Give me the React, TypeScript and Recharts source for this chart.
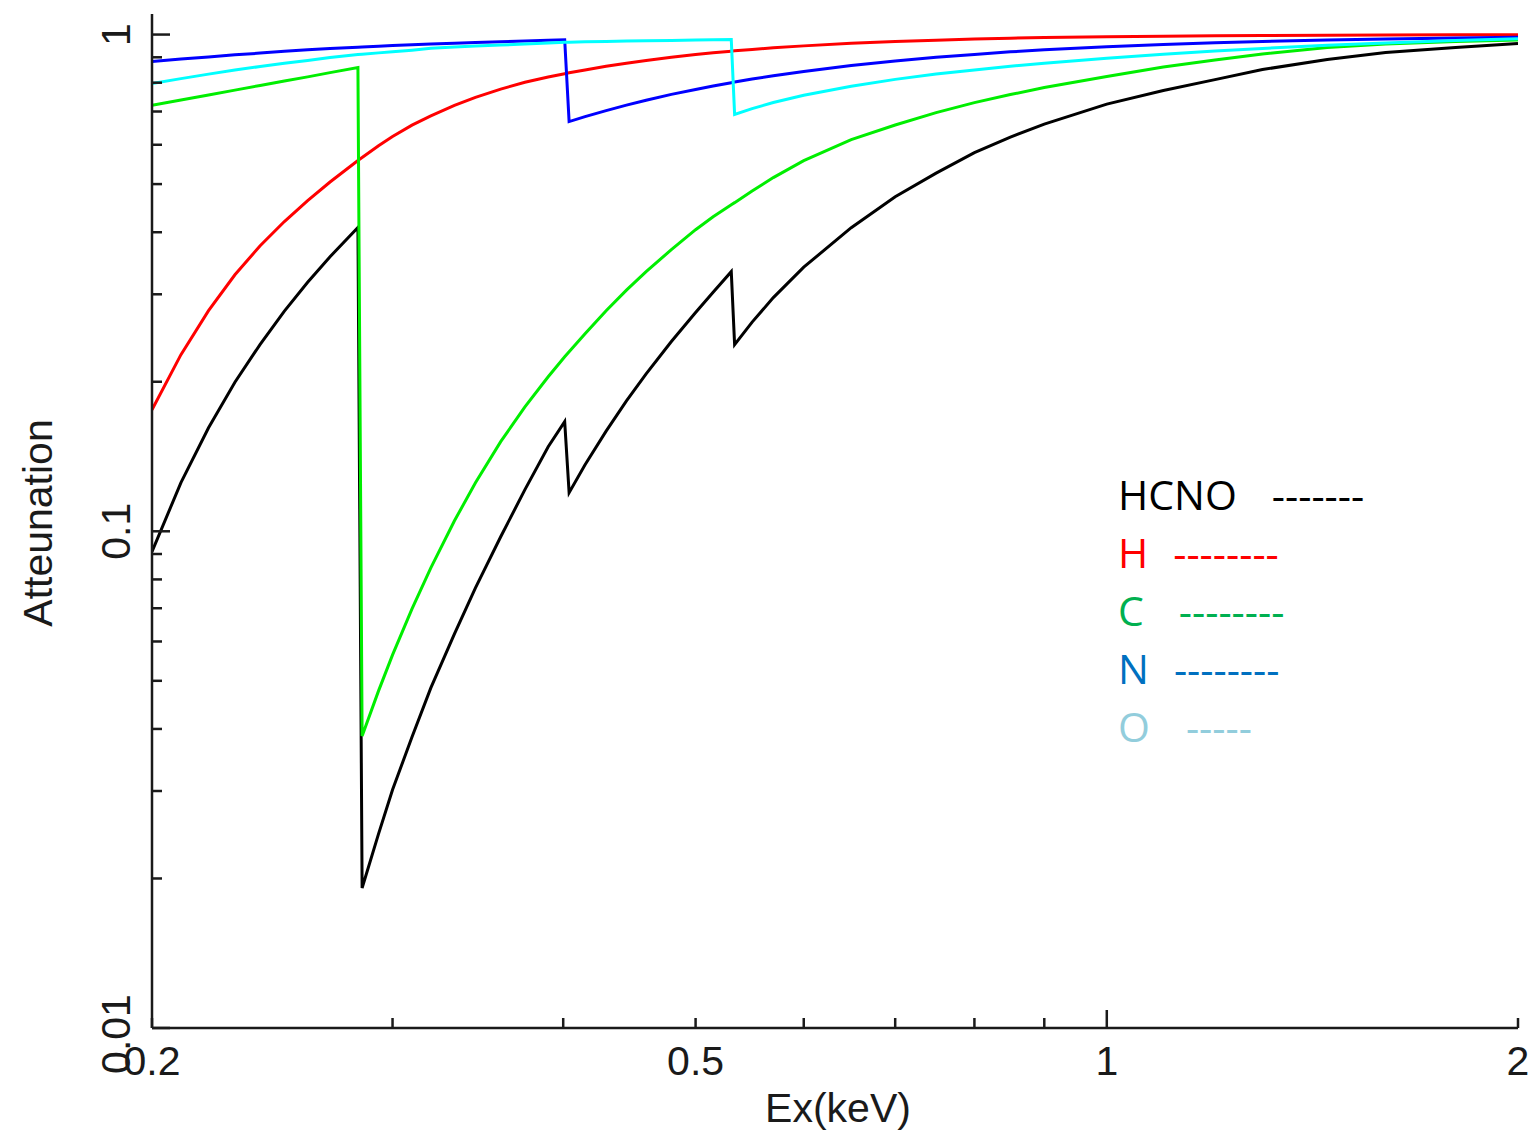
import React from 'react';
import { LineChart, Line, XAxis, YAxis, Legend } from 'recharts';

// photon energy (keV); each absorption edge is sampled just before and just after
const energies = [
  0.2, 0.21, 0.22, 0.23, 0.24, 0.25, 0.26, 0.27, 0.283,
  0.285, 0.293, 0.3, 0.31, 0.32, 0.333, 0.345, 0.36, 0.375, 0.39, 0.401,
  0.404, 0.415, 0.43, 0.445, 0.46, 0.48, 0.5, 0.515, 0.531,
  0.534, 0.55, 0.57, 0.6, 0.65, 0.7, 0.75, 0.8, 0.85, 0.9, 1.0, 1.1, 1.2, 1.3, 1.45, 1.6, 1.8, 2.0,
];

const hcno = [
  0.091, 0.1253, 0.1616, 0.1995, 0.2379, 0.2774, 0.3172, 0.3571, 0.4087,
  0.01914, 0.02459, 0.03016, 0.03855, 0.04839, 0.06217, 0.07691, 0.09748, 0.1213, 0.148, 0.1662,
  0.1196, 0.1361, 0.1591, 0.183, 0.2074, 0.241, 0.2757, 0.3027, 0.3332,
  0.2375, 0.2637, 0.2954, 0.3402, 0.4085, 0.4717, 0.526, 0.5785, 0.6216, 0.6603, 0.7244, 0.7714, 0.8115, 0.8503, 0.8907, 0.9199, 0.9415, 0.9591,
];
const hydrogen = [
  0.1757, 0.2268, 0.2781, 0.3284, 0.3757, 0.4203, 0.463, 0.5048, 0.5578,
  0.5654, 0.5974, 0.6233, 0.6572, 0.6862, 0.7201, 0.7474, 0.7767, 0.8015, 0.8215, 0.8341,
  0.8375, 0.8487, 0.863, 0.8758, 0.8867, 0.9, 0.9115, 0.919, 0.926,
  0.9273, 0.9333, 0.9402, 0.9489, 0.96, 0.9681, 0.9743, 0.9793, 0.9834, 0.9862, 0.9899, 0.9926, 0.9945, 0.9958, 0.9972, 0.9981, 0.9991, 0.9995,
];
const carbon = [
  0.7202, 0.7385, 0.7556, 0.773, 0.7899, 0.806, 0.8219, 0.8382, 0.8582,
  0.03873, 0.04772, 0.05639, 0.06981, 0.08442, 0.105, 0.1252, 0.1515, 0.1781, 0.2047, 0.2246,
  0.2298, 0.2498, 0.278, 0.3058, 0.3332, 0.369, 0.4047, 0.4298, 0.4545,
  0.4588, 0.484, 0.5153, 0.5575, 0.6145, 0.6575, 0.6963, 0.7295, 0.7571, 0.7821, 0.823, 0.8601, 0.8887, 0.9136, 0.9415, 0.9569, 0.9681, 0.9748,
];
const nitrogen = [
  0.8823, 0.8927, 0.9017, 0.9102, 0.9177, 0.9251, 0.932, 0.9371, 0.9432,
  0.9441, 0.9476, 0.9502, 0.9538, 0.9569, 0.9609, 0.964, 0.9676, 0.9708, 0.9739, 0.9761,
  0.668, 0.6834, 0.703, 0.7211, 0.7377, 0.7578, 0.7755, 0.788, 0.8,
  0.8023, 0.8137, 0.826, 0.8427, 0.8662, 0.8847, 0.9, 0.9122, 0.923, 0.9316, 0.945, 0.9552, 0.9627, 0.9685, 0.9752, 0.9798, 0.9844, 0.9875,
];
const oxygen = [
  0.7968, 0.8153, 0.8325, 0.8482, 0.8623, 0.8753, 0.8871, 0.8989, 0.9115,
  0.9131, 0.9186, 0.923, 0.9302, 0.9389, 0.9441, 0.948, 0.9525, 0.9569, 0.9613, 0.9645,
  0.9649, 0.9667, 0.9685, 0.9703, 0.9716, 0.9734, 0.9748, 0.9761, 0.977,
  0.6903, 0.7093, 0.7299, 0.755, 0.787, 0.8124, 0.8325, 0.8489, 0.8632, 0.8758, 0.8963, 0.9131, 0.9263, 0.9376, 0.9515, 0.9618, 0.9725, 0.9811,
];

const xTicks = [0.2, 0.3, 0.4, 0.5, 0.6, 0.7, 0.8, 0.9, 1, 2];
const xLabels = [0.2, 0.5, 1, 2];
const yTicks = [
  0.01, 0.02, 0.03, 0.04, 0.05, 0.06, 0.07, 0.08, 0.09,
  0.1, 0.2, 0.3, 0.4, 0.5, 0.6, 0.7, 0.8, 0.9, 1,
];
const yLabels = [0.01, 0.1, 1];

const series = [
  { key: 'hcno', name: 'HCNO', values: hcno, color: '#000000', legendColor: '#000000', dashes: '-------', gap: 35 },
  { key: 'h', name: 'H', values: hydrogen, color: '#ff0000', legendColor: '#ff0000', dashes: '--------', gap: 25 },
  { key: 'c', name: 'C', values: carbon, color: '#00ee00', legendColor: '#00b050', dashes: '--------', gap: 35 },
  { key: 'n', name: 'N', values: nitrogen, color: '#0000ff', legendColor: '#0070c0', dashes: '--------', gap: 25 },
  { key: 'o', name: 'O', values: oxygen, color: '#00ffff', legendColor: '#92cddc', dashes: '-----', gap: 36 },
];

const data = energies.map((e, i) => {
  const row: Record<string, number> = { e };
  series.forEach((s) => {
    row[s.key] = s.values[i];
  });
  return row;
});

const FONT = "'Liberation Sans', Arial, Helvetica, sans-serif";
const INK = '#1a1a1a';

function BottomTick({ x, y, payload }: any) {
  const v = payload.value;
  const len = v === 1 ? 18 : 10;
  return (
    <g>
      <line x1={x} y1={y} x2={x} y2={y - len} stroke={INK} strokeWidth={2.5} />
      {xLabels.includes(v) && (
        <text x={x} y={y + 47} textAnchor="middle" fontSize={41} fontFamily={FONT} fill={INK}>
          {String(v)}
        </text>
      )}
    </g>
  );
}

function TopTick({ x, y, payload }: any) {
  const len = payload.value === 1 ? 18 : 10;
  return <line x1={x} y1={y} x2={x} y2={y + len} stroke={INK} strokeWidth={2.5} />;
}

function LeftTick({ x, y, payload }: any) {
  const v = payload.value;
  const major = yLabels.includes(v);
  const len = major ? 18 : 10;
  // the bottom label sits a little low in the original
  const ly = v === 0.01 ? y + 6 : y;
  return (
    <g>
      <line x1={x} y1={y} x2={x + len} y2={y} stroke={INK} strokeWidth={2.5} />
      {major && (
        <text
          x={130}
          y={ly}
          transform={`rotate(-90, 130, ${ly})`}
          textAnchor="middle"
          fontSize={41}
          fontFamily={FONT}
          fill={INK}
        >
          {String(v)}
        </text>
      )}
    </g>
  );
}

function RightTick({ x, y, payload }: any) {
  const len = yLabels.includes(payload.value) ? 18 : 10;
  return <line x1={x} y1={y} x2={x - len} y2={y} stroke={INK} strokeWidth={2.5} />;
}

function LegendBox() {
  return (
    <div style={{ fontFamily: "'Open Sans', 'Noto Sans', sans-serif", fontSize: 41, lineHeight: '58px' }}>
      {series.map((s) => (
        <div key={s.key} style={{ color: s.legendColor, whiteSpace: 'nowrap' }}>
          <span>{s.name}</span>
          <span style={{ marginLeft: s.gap }}>{s.dashes}</span>
        </div>
      ))}
    </div>
  );
}

export default function App() {
  const axisLine = { stroke: INK, strokeWidth: 2.5 };
  return (
    <div style={{ position: 'absolute', left: 0, top: 0, width: 1530, height: 1136, background: '#fff' }}>
      <LineChart width={1530} height={1136} data={data} margin={{ top: 14, right: 12, bottom: 0, left: 0 }}>
        <XAxis
          dataKey="e"
          type="number"
          scale="log"
          domain={[0.2, 2]}
          allowDataOverflow
          ticks={xTicks}
          interval={0}
          height={108}
          tickLine={false}
          tickSize={0}
          tickMargin={0}
          axisLine={axisLine}
          tick={(p: any) => <BottomTick {...p} />}
          label={(p: any) => {
            const vb = p.viewBox || { x: 152, y: 1028, width: 1366 };
            return (
              <text x={vb.x + vb.width / 2 + 3} y={vb.y + 94} textAnchor="middle" fontSize={41} fontFamily={FONT} fill={INK}>
                Ex(keV)
              </text>
            );
          }}
        />
        <XAxis
          xAxisId="top"
          dataKey="e"
          orientation="top"
          type="number"
          scale="log"
          domain={[0.2, 2]}
          allowDataOverflow
          ticks={xTicks}
          interval={0}
          height={0}
          tickLine={false}
          tickSize={0}
          tickMargin={0}
          axisLine={axisLine}
          tick={(p: any) => <TopTick {...p} />}
        />
        <YAxis
          type="number"
          scale="log"
          domain={[0.01, 1.1]}
          allowDataOverflow
          ticks={yTicks}
          interval={0}
          width={152}
          tickLine={false}
          tickSize={0}
          tickMargin={0}
          axisLine={axisLine}
          tick={(p: any) => <LeftTick {...p} />}
          label={(p: any) => {
            const vb = p.viewBox || { y: 14, height: 1014 };
            const cy = vb.y + vb.height / 2 + 2;
            return (
              <text x={52} y={cy} transform={`rotate(-90, 52, ${cy})`} textAnchor="middle" fontSize={41} fontFamily={FONT} fill={INK}>
                Atteunation
              </text>
            );
          }}
        />
        <YAxis
          yAxisId="right"
          orientation="right"
          type="number"
          scale="log"
          domain={[0.01, 1.1]}
          allowDataOverflow
          ticks={yTicks}
          interval={0}
          width={0}
          tickLine={false}
          tickSize={0}
          tickMargin={0}
          axisLine={axisLine}
          tick={(p: any) => <RightTick {...p} />}
        />
        <Legend
          layout="vertical"
          align="center"
          verticalAlign="middle"
          content={() => <LegendBox />}
          wrapperStyle={{ left: 1118, top: 465, width: 330, height: 300 }}
        />
        {series.map((s) => (
          <Line
            key={s.key}
            dataKey={s.key}
            name={s.name}
            type="linear"
            stroke={s.color}
            strokeWidth={3}
            dot={false}
            activeDot={false}
            isAnimationActive={false}
          />
        ))}
      </LineChart>
    </div>
  );
}
